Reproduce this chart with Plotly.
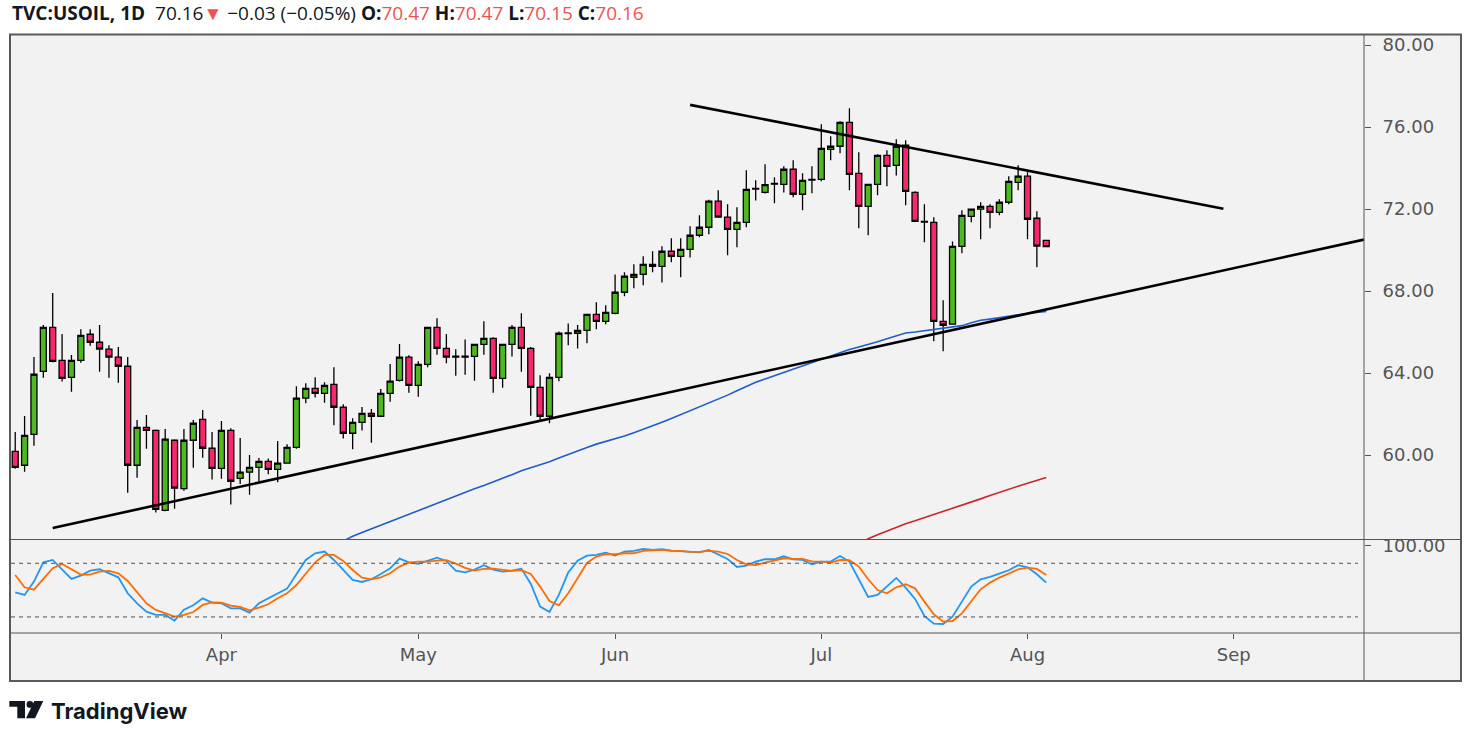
import pandas as pd
import plotly.graph_objects as go

# trading days shown on the chart (Good Friday closed), future days give the empty right side
dates = [d for d in pd.bdate_range('2021-03-02', '2021-09-30') if d != pd.Timestamp('2021-04-02')]

opens = [60.18, 59.50, 61.01, 64.08, 66.23, 64.62, 63.79, 64.62, 65.89, 65.50,
         65.16, 64.77, 64.33, 59.50, 61.35, 61.20, 57.30, 60.72, 58.36, 60.72,
         61.74, 60.33, 59.35, 61.20, 58.86, 59.16, 59.40, 59.69, 59.30, 59.60,
         60.37, 62.77, 63.25, 63.01, 63.45, 62.33, 61.06, 61.59, 62.03, 61.89,
         63.01, 63.64, 64.77, 63.40, 64.42, 66.23, 65.20, 64.82, 64.78, 64.81,
         65.40, 65.69, 63.74, 65.40, 66.23, 65.20, 63.30, 61.89, 63.79, 65.92,
         65.94, 66.08, 66.86, 66.52, 66.91, 67.94, 68.67, 68.81, 69.30, 69.20,
         69.94, 69.69, 70.03, 70.72, 71.11, 72.38, 71.60, 71.01, 71.35, 72.97,
         72.81, 73.21, 73.20, 73.94, 72.72, 73.41, 73.45, 74.91, 75.06, 76.23,
         73.74, 72.13, 73.20, 74.62, 74.13, 75.11, 72.81, 71.40, 71.35, 66.52,
         66.38, 70.18, 71.64, 71.99, 72.13, 71.84, 72.33, 73.30, 73.60, 71.55, 70.47]
highs = [61.12, 61.90, 64.78, 66.34, 67.90, 65.90, 64.88, 66.13, 66.13, 66.34,
         65.35, 65.27, 64.78, 61.71, 61.95, 61.25, 61.27, 60.77, 61.27, 61.71,
         62.20, 61.12, 61.66, 61.30, 60.83, 60.00, 59.85, 59.83, 60.68, 60.52,
         63.35, 63.50, 63.79, 63.55, 64.28, 62.48, 61.79, 62.34, 62.24, 63.22,
         64.44, 65.41, 64.86, 64.57, 66.23, 66.67, 65.90, 65.16, 65.64, 65.40,
         66.52, 65.74, 65.40, 66.34, 66.91, 65.27, 63.89, 63.99, 66.03, 66.42,
         66.34, 66.86, 67.45, 67.30, 68.81, 68.91, 69.30, 69.69, 69.94, 70.18,
         70.57, 70.57, 71.16, 71.69, 72.45, 72.91, 72.23, 72.09, 73.89, 73.40,
         74.18, 73.55, 74.08, 74.38, 73.74, 74.08, 76.13, 75.55, 76.28, 76.91,
         74.77, 73.20, 74.67, 74.86, 75.40, 75.35, 72.86, 72.23, 71.60, 67.55,
         70.42, 71.94, 72.03, 72.33, 72.23, 72.47, 73.60, 74.13, 73.79, 71.89, 70.47]
lows = [59.33, 59.18, 60.45, 63.77, 64.52, 63.58, 63.09, 64.50, 65.33, 64.06,
        63.77, 63.53, 58.16, 58.89, 60.31, 57.19, 57.25, 57.38, 58.26, 59.38,
        59.87, 58.81, 58.84, 57.58, 58.59, 58.06, 58.72, 59.06, 58.67, 59.60,
        60.31, 62.52, 62.81, 62.55, 61.45, 60.80, 60.28, 61.19, 60.60, 61.89,
        62.60, 63.58, 63.04, 62.84, 64.28, 64.89, 64.47, 63.87, 63.92, 63.62,
        64.89, 63.04, 63.28, 64.81, 64.06, 61.92, 61.67, 61.55, 63.60, 65.35,
        65.20, 65.45, 66.13, 66.38, 66.86, 67.74, 68.13, 68.28, 68.91, 68.42,
        69.40, 68.67, 69.64, 70.62, 70.77, 71.60, 69.74, 70.13, 71.11, 72.42,
        72.76, 72.28, 72.81, 72.57, 71.94, 72.77, 73.35, 74.38, 74.72, 72.91,
        71.06, 70.72, 72.67, 73.11, 73.64, 72.18, 71.40, 70.38, 65.55, 65.06,
        66.38, 69.84, 71.35, 70.52, 71.06, 71.69, 72.23, 72.91, 70.52, 69.16, 70.15]
closes = [59.40, 60.96, 63.94, 66.23, 64.57, 63.74, 64.62, 65.84, 65.50, 65.16,
          64.77, 64.33, 59.50, 61.35, 61.20, 57.35, 60.77, 58.38, 60.72, 61.55,
          60.33, 59.35, 61.20, 58.72, 59.16, 59.40, 59.69, 59.30, 59.60, 60.37,
          62.77, 63.25, 63.01, 63.40, 62.33, 61.06, 61.59, 62.03, 61.89, 63.01,
          63.60, 64.77, 63.40, 64.42, 66.23, 65.20, 64.77, 64.78, 64.82, 65.40,
          65.69, 63.74, 65.40, 66.23, 65.20, 63.30, 61.89, 63.79, 65.94, 65.96,
          66.08, 66.86, 66.52, 66.96, 67.94, 68.72, 68.81, 69.30, 69.20, 69.94,
          69.69, 70.03, 70.72, 71.11, 72.38, 71.60, 71.01, 71.35, 72.96, 73.01,
          73.19, 73.25, 73.94, 72.72, 73.40, 73.45, 74.96, 75.06, 76.23, 73.69,
          72.13, 73.20, 74.62, 74.08, 75.06, 72.86, 71.40, 71.36, 66.52, 66.33,
          70.18, 71.69, 71.99, 72.13, 71.84, 72.33, 73.35, 73.60, 71.50, 70.19, 70.16]
bars = list(range(len(opens)))

# moving averages, only the part that is inside the price pane
sma100_start = 35
sma100 = [55.80, 56.04, 56.22, 56.40, 56.58, 56.75, 56.93, 57.11, 57.29, 57.47,
          57.66, 57.84, 58.02, 58.18, 58.35, 58.51, 58.68, 58.86, 59.04, 59.23,
          59.38, 59.50, 59.67, 59.85, 60.03, 60.19, 60.36, 60.53, 60.66, 60.79,
          60.93, 61.09, 61.25, 61.42, 61.60, 61.78, 61.97, 62.14, 62.33, 62.52,
          62.72, 62.92, 63.13, 63.35, 63.55, 63.71, 63.87, 64.03, 64.20, 64.37,
          64.53, 64.69, 64.85, 65.00, 65.15, 65.27, 65.39, 65.52, 65.67, 65.81,
          65.95, 66.00, 66.06, 66.11, 66.17, 66.24, 66.31, 66.45, 66.57, 66.63,
          66.71, 66.77, 66.84, 66.90, 66.95, 67.00]
sma200_start = 90
sma200 = [55.55, 55.92, 56.11, 56.29, 56.47, 56.65, 56.79, 56.94, 57.08, 57.23,
          57.38, 57.54, 57.70, 57.86, 58.02, 58.18, 58.33, 58.48, 58.62, 58.76, 58.90]

# stochastic %K / %D
stoch_k = [47.5, 44.6, 59.5, 81.1, 83.7, 72.5, 62.5, 66.2, 71.8, 73.3,
           68.8, 64.3, 46.4, 35.2, 25.9, 22.2, 22.2, 15.8, 28.1, 33.0,
           40.8, 36.0, 35.2, 29.6, 29.6, 24.8, 35.2, 40.8, 46.4, 51.6,
           67.7, 83.7, 91.2, 93.1, 83.7, 72.5, 61.3, 59.1, 62.1, 68.1,
           74.4, 85.2, 81.1, 79.3, 82.6, 86.3, 82.6, 71.8, 69.9, 72.9,
           77.8, 72.9, 70.7, 71.8, 74.0, 57.2, 31.5, 25.5, 44.6, 69.6,
           83.0, 88.6, 89.3, 91.9, 88.6, 93.1, 93.8, 96.0, 94.9, 95.7,
           94.2, 93.8, 93.1, 92.3, 94.9, 90.1, 84.9, 75.9, 77.4, 81.9,
           84.5, 84.5, 87.8, 84.5, 83.7, 78.9, 81.9, 81.9, 88.2, 81.9,
           62.5, 42.3, 44.6, 53.9, 63.6, 52.8, 40.1, 21.0, 12.5, 12.1,
           20.3, 37.1, 53.9, 62.1, 64.7, 68.4, 72.2, 77.8, 75.5, 67.7, 58.4]
stoch_d = [66.9, 53.1, 50.5, 62.5, 74.4, 79.3, 73.3, 67.3, 67.3, 70.7,
           71.4, 68.8, 60.2, 48.3, 35.2, 27.8, 24.0, 20.3, 22.2, 25.5,
           33.4, 36.3, 36.0, 32.6, 31.1, 27.4, 30.4, 34.1, 40.8, 46.4,
           55.7, 68.8, 81.1, 89.3, 89.3, 82.6, 72.5, 64.0, 62.1, 64.3,
           68.8, 76.3, 80.7, 81.9, 81.9, 83.0, 83.4, 79.6, 74.8, 71.8,
           73.7, 74.0, 72.9, 71.4, 72.2, 68.1, 53.9, 37.8, 33.0, 46.4,
           63.2, 80.4, 87.5, 90.1, 90.1, 91.2, 91.2, 93.8, 94.6, 94.9,
           93.8, 93.8, 92.7, 92.7, 93.8, 93.1, 90.4, 83.7, 78.9, 78.1,
           80.7, 83.0, 85.6, 84.9, 84.9, 82.2, 81.9, 80.7, 83.7, 83.4,
           76.3, 62.1, 50.1, 46.4, 53.1, 56.5, 52.0, 37.1, 22.9, 14.7,
           15.4, 24.0, 37.1, 50.9, 58.4, 64.0, 68.4, 73.3, 75.1, 73.7, 66.9]

# drawn trend lines as (bar, price) end points
upper_line_x = [72.0, 128.9]
upper_line_y = [77.08, 72.01]
lower_line_x = [4.0, 143.9]
lower_line_y = [56.44, 70.51]

price_ticks = [60, 64, 68, 72, 76, 80]
stoch_ticks = [100]
stoch_levels = [80, 20]

# month labels sit on the first bar of each month
tick_idx, tick_txt = [], []
for i in range(1, len(dates)):
    if dates[i].month != dates[i - 1].month:
        tick_idx.append(i)
        tick_txt.append(dates[i].strftime('%b'))

W, H = 1471, 737
ml, mr, mt, mb = 11, 107, 35, 104


def px(x):
    return (x - ml) / (W - ml - mr)


def py(y):
    return (H - mb - y) / (H - mt - mb)


split = py(539.5)
axis_font = dict(family='DejaVu Sans', size=18, color='#555555')
red = '#ef5350'
ink = '#131722'

fig = go.Figure()

fig.add_trace(go.Candlestick(
    x=bars, open=opens, high=highs, low=lows, close=closes,
    increasing=dict(line=dict(color='#000000', width=1.3), fillcolor='#4db81f'),
    decreasing=dict(line=dict(color='#000000', width=1.3), fillcolor='#f7266f'),
    whiskerwidth=0,
    xaxis='x', yaxis='y',
))

fig.add_trace(go.Scatter(
    x=list(range(sma100_start, sma100_start + len(sma100))), y=sma100,
    mode='lines', line=dict(color='#1f5dc9', width=1.6), xaxis='x', yaxis='y',
))
fig.add_trace(go.Scatter(
    x=list(range(sma200_start, sma200_start + len(sma200))), y=sma200,
    mode='lines', line=dict(color='#c8262b', width=1.6), xaxis='x', yaxis='y',
))

for lx, ly in [(upper_line_x, upper_line_y), (lower_line_x, lower_line_y)]:
    fig.add_trace(go.Scatter(
        x=lx, y=ly, mode='lines', line=dict(color='#000000', width=2.6),
        xaxis='x', yaxis='y',
    ))

fig.add_trace(go.Scatter(
    x=bars, y=stoch_k, mode='lines', line=dict(color='#2196f3', width=1.8),
    xaxis='x', yaxis='y2',
))
fig.add_trace(go.Scatter(
    x=bars, y=stoch_d, mode='lines', line=dict(color='#ff6d00', width=1.8),
    xaxis='x', yaxis='y2',
))

shapes = [
    # chart frame
    dict(type='rect', xref='paper', yref='paper', x0=px(10), x1=px(1461), y0=py(681), y1=py(34.5),
         line=dict(color='#5a5a5a', width=2), fillcolor='#f2f2f2', layer='below'),
    dict(type='line', xref='paper', yref='paper', x0=px(1364), x1=px(1364), y0=py(681), y1=py(34.5),
         line=dict(color='#555555', width=1)),
    dict(type='line', xref='paper', yref='paper', x0=px(10), x1=px(1461), y0=py(539.5), y1=py(539.5),
         line=dict(color='#555555', width=1.2)),
    dict(type='line', xref='paper', yref='paper', x0=px(10), x1=px(1461), y0=py(633), y1=py(633),
         line=dict(color='#555555', width=1.2)),
    # logo mark
    dict(type='path', xref='paper', yref='paper', layer='above',
         path='M {} {} L {} {} L {} {} L {} {} L {} {} L {} {} Z'.format(
             px(9.3), py(701), px(25), py(701), px(25), py(718.3),
             px(17.3), py(718.3), px(17.3), py(706.7), px(9.3), py(706.7)),
         fillcolor=ink, line=dict(width=0)),
    dict(type='circle', xref='paper', yref='paper', x0=px(26.5), x1=px(33.3), y0=py(707.8), y1=py(701),
         fillcolor=ink, line=dict(width=0)),
    dict(type='path', xref='paper', yref='paper',
         path='M {} {} L {} {} L {} {} L {} {} Z'.format(
             px(34.3), py(701), px(43.3), py(701), px(35), py(718.3), px(26), py(718.3)),
         fillcolor=ink, line=dict(width=0)),
]
for lv in stoch_levels:
    shapes.append(dict(type='line', xref='paper', yref='y2', x0=0, x1=px(1358), y0=lv, y1=lv,
                       line=dict(color='#555555', width=1, dash='4px,4px')))

header = ("<b>TVC:USOIL, 1D</b>\u00a0\u00a070.16<span style='color:%s'>\u25bc</span>\u00a0\u22120.03 (\u22120.05%%) "
          "<b>O:</b><span style='color:%s'>70.47</span> <b>H:</b><span style='color:%s'>70.47</span> "
          "<b>L:</b><span style='color:%s'>70.15</span> <b>C:</b><span style='color:%s'>70.16</span>"
          ) % (red, red, red, red, red)

fig.update_layout(
    width=W, height=H,
    margin=dict(l=ml, r=mr, t=mt, b=mb, pad=0),
    paper_bgcolor='#ffffff',
    plot_bgcolor='rgba(0,0,0,0)',
    showlegend=False,
    boxgap=0.2, boxgroupgap=0.2,
    xaxis=dict(
        range=[-0.45, 143.9], anchor='y2',
        tickmode='array', tickvals=tick_idx, ticktext=tick_txt,
        ticks='outside', ticklen=5, tickcolor='#555555', tickfont=axis_font,
        showgrid=False, zeroline=False, showline=False,
        rangeslider=dict(visible=False),
    ),
    yaxis=dict(
        domain=[split, 1], range=[55.878, 80.488], side='right', anchor='x',
        tickmode='array', tickvals=price_ticks, tickformat='.2f',
        ticks='outside', ticklen=6, tickcolor='#555555', tickfont=axis_font,
        ticklabelstandoff=8, showgrid=False, zeroline=False, showline=False,
    ),
    yaxis2=dict(
        domain=[0, split], range=[2.0, 106.6], side='right', anchor='x',
        tickmode='array', tickvals=stoch_ticks, tickformat='.2f',
        ticks='outside', ticklen=6, tickcolor='#555555', tickfont=axis_font,
        ticklabelstandoff=8, showgrid=False, zeroline=False, showline=False,
    ),
    shapes=shapes,
    annotations=[
        dict(xref='paper', yref='paper', x=px(10), y=py(13), xanchor='left', yanchor='middle',
             text=header, showarrow=False, font=dict(family='Open Sans', size=19, color=ink)),
        dict(xref='paper', yref='paper', x=px(49), y=py(710.5), xanchor='left', yanchor='middle',
             text='<b>TradingView</b>', showarrow=False, font=dict(family='Inter', size=22, color=ink)),
    ],
)

fig.write_html('out.html', config=dict(displayModeBar=False),
               post_script="document.body.style.margin='0';document.body.style.overflow='hidden';")
